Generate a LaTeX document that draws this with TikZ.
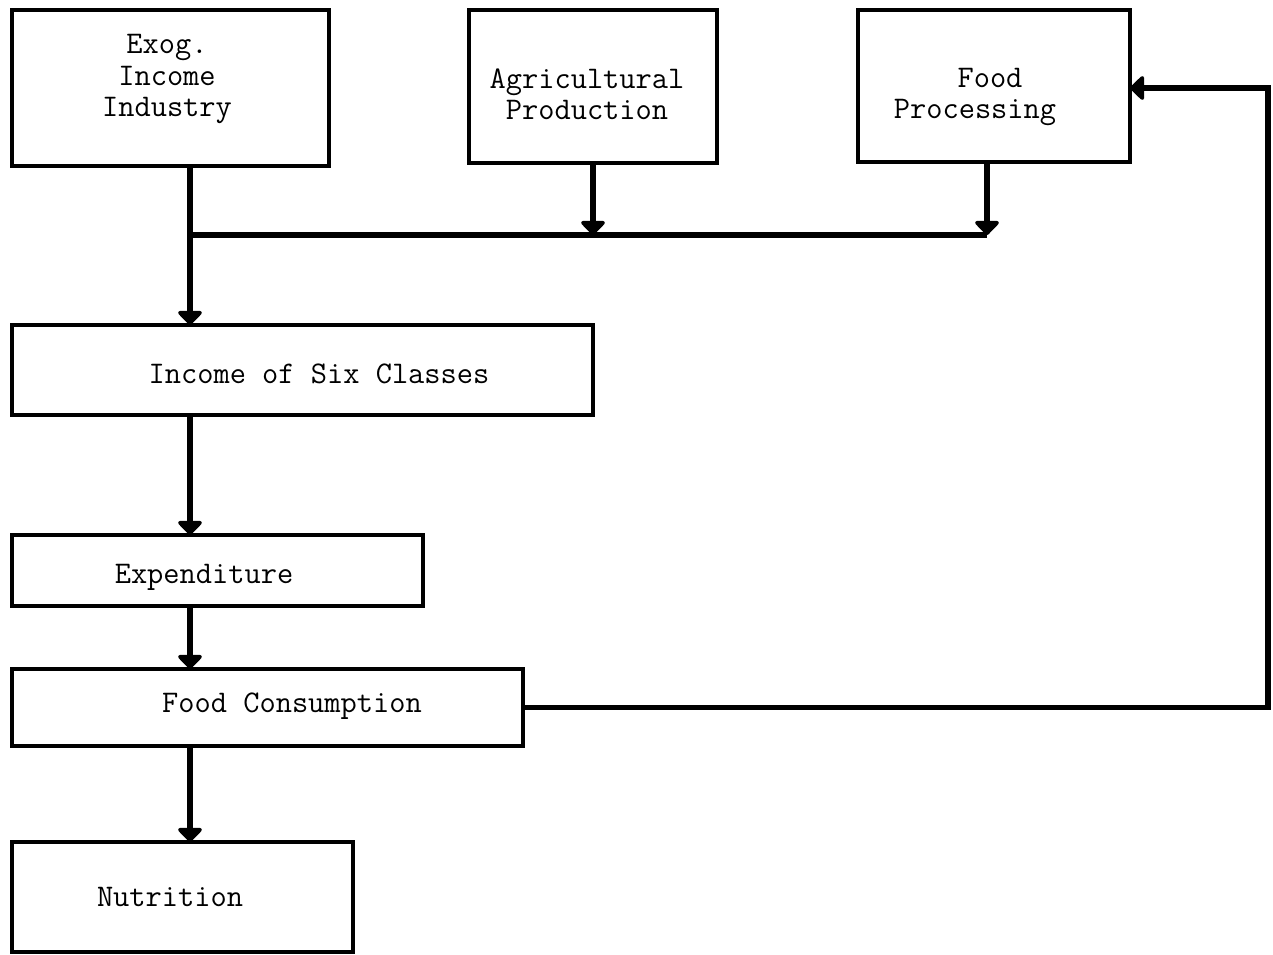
\documentclass[tikz,border=0pt]{standalone}
\usepackage{fontspec}
\usetikzlibrary{arrows.meta}
\newcommand\twfont{\ttfamily\addfontfeatures{FakeBold=1.3}\fontsize{31.5}{31.5}\selectfont}
\begin{document}
\begin{tikzpicture}[x=1pt,y=-1pt,
  box/.style={draw,line width=4.5pt,inner sep=0pt,outer sep=0pt},
  lbl/.style={inner sep=0pt,align=center,font=\twfont},
  conn/.style={line width=5.5pt},
  tip/.style={-{Triangle[width=28pt,length=15pt,round]}}]
\useasboundingbox (0,0) rectangle (1273,954);
% boxes
\node[box,minimum width=317pt,minimum height=156pt] (exog) at (170.5,88) {};
\node[box,minimum width=248pt,minimum height=153pt] (agri) at (593,86.5) {};
\node[box,minimum width=272pt,minimum height=152pt] (proc) at (994,86) {};
\node[box,minimum width=581pt,minimum height=90pt] (inc) at (302.5,370) {};
\node[box,minimum width=411pt,minimum height=71pt] (exp) at (217.5,570.5) {};
\node[box,minimum width=511pt,minimum height=77pt] (cons) at (267.5,707.5) {};
\node[box,minimum width=341pt,minimum height=110pt] (nutr) at (182.5,897) {};
% labels
\node[lbl] (texog) at (167,79) {Exog.\\Income\\Industry};
\node[lbl] (tagri) at (587,94) {Agricultural\\Production};
\node[lbl] (tproc) at (975,97) {\hspace*{30pt}Food\\Processing};
\node[lbl] (tinc) at (319,374) {Income of Six Classes};
\node[lbl] (texp) at (204,577) {Expenditure};
\node[lbl] (tcons) at (292,706) {Food Consumption};
\node[lbl] (tnutr) at (170,897) {Nutrition};
% connector coordinates
\coordinate (jl) at (190,235);
\coordinate (jr) at (987,235);
\coordinate (fb) at (1268,88);
% connectors
\draw[conn,tip] (exog.south -| jl) -- (inc.north -| jl);
\draw[conn] (jl) -- (jr);
\draw[conn,tip] (agri.south) -- (agri.south |- jl);
\draw[conn,tip] (proc.south -| jr) -- (jr);
\draw[conn,tip] (inc.south -| jl) -- (exp.north -| jl);
\draw[conn,tip] (exp.south -| jl) -- (cons.north -| jl);
\draw[conn,tip] (cons.south -| jl) -- (nutr.north -| jl);
\draw[conn,tip] (cons.east) -| (fb) -- (proc.east |- fb);
\end{tikzpicture}
\end{document}
